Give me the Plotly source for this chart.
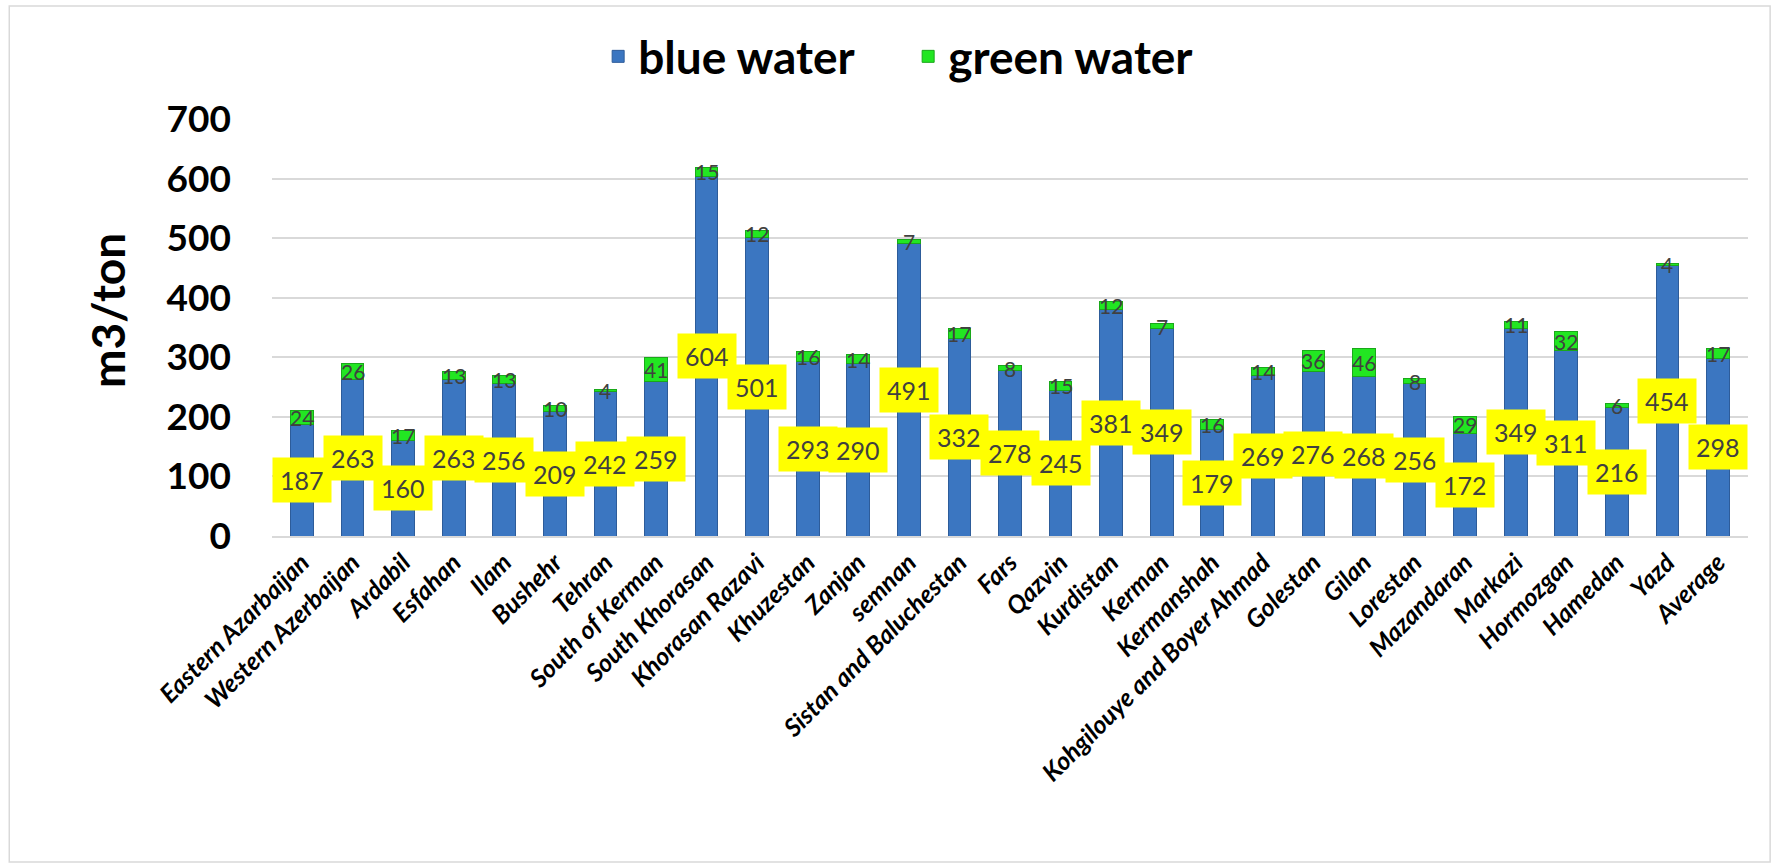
import plotly.graph_objects as go

categories = ["Eastern Azarbaijan", "Western Azerbaijan", "Ardabil", "Esfahan", "Ilam", "Bushehr",
              "Tehran", "South of Kerman", "South Khorasan", "Khorasan Razavi", "Khuzestan", "Zanjan",
              "semnan", "Sistan and Baluchestan", "Fars", "Qazvin", "Kurdistan", "Kerman", "Kermanshah",
              "Kohgilouye and Boyer Ahmad", "Golestan", "Gilan", "Lorestan", "Mazandaran", "Markazi",
              "Hormozgan", "Hamedan", "Yazd", "Average"]
blue_water = [187, 263, 160, 263, 256, 209, 242, 259, 604, 501, 293, 290, 491, 332, 278, 245, 381,
              349, 179, 269, 276, 268, 256, 172, 349, 311, 216, 454, 298]
green_water = [24, 26, 17, 13, 13, 10, 4, 41, 15, 12, 16, 14, 7, 17, 8, 15, 12, 7, 16, 14, 36, 46,
               8, 29, 11, 32, 6, 4, 17]
y_ticks = [0, 100, 200, 300, 400, 500, 600, 700]

FONT = "Lato"

fig = go.Figure()
fig.add_trace(go.Bar(x=categories, y=blue_water, name="blue water",
                     marker=dict(color="#3B76C1", line=dict(color="#2D5C9A", width=1))))
fig.add_trace(go.Bar(x=categories, y=green_water, name="green water",
                     marker=dict(color="#22E622", line=dict(color="#1AA81A", width=1))))

annotations = []
for c, b, g in zip(categories, blue_water, green_water):
    annotations.append(dict(x=c, y=b / 2, xref="x", yref="y", text=str(b), showarrow=False,
                            bgcolor="#FFFF00", borderpad=7,
                            font=dict(family=FONT, size=25, color="#404040")))
    annotations.append(dict(x=c, y=b + g / 2, xref="x", yref="y", text=str(g), showarrow=False,
                            font=dict(family=FONT, size=21, color="#404040")))
annotations.append(dict(x=-0.111, y=0.54, xref="paper", yref="paper", text="<b>m3/ton</b>",
                        textangle=-90, showarrow=False, xanchor="center", yanchor="middle",
                        font=dict(family=FONT, size=46, color="black")))

fig.update_layout(
    width=1780, height=865,
    margin=dict(l=272, r=32, t=119, b=329),
    barmode="stack", bargap=0.55,
    paper_bgcolor="white", plot_bgcolor="white",
    font=dict(family=FONT, color="black"),
    legend=dict(orientation="h", x=0.431, y=1.15, xanchor="center", yanchor="middle",
                traceorder="normal", entrywidth=265, entrywidthmode="pixels",
                font=dict(family=FONT, size=46, color="black", weight="bold")),
    annotations=annotations,
    shapes=[dict(type="rect", xref="paper", yref="paper", x0=-0.178, x1=1.015, y0=-0.782, y1=1.271,
                 line=dict(color="#D9D9D9", width=1.5), layer="below")],
)
fig.update_xaxes(tickangle=-45, tickfont=dict(family=FONT, size=25, color="black", weight="bold", style="italic"),
                 showline=True, linecolor="#D9D9D9", linewidth=2, ticks="")
fig.update_yaxes(range=[0, 700], tickvals=y_ticks, showgrid=True, gridcolor="#D9D9D9", gridwidth=2,
                 zeroline=False, tickfont=dict(family=FONT, size=37, color="black", weight="bold"),
                 ticklabelstandoff=40)

fig.write_html("out.html")
